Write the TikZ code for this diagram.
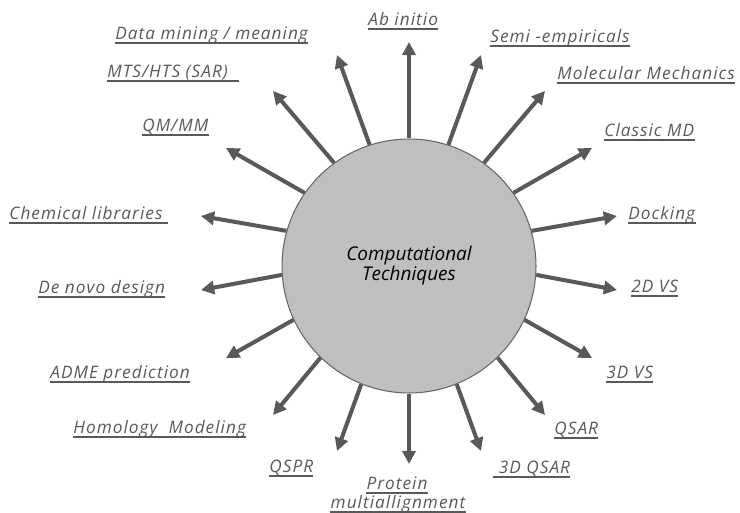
\documentclass[tikz,border=0pt]{standalone}
\usepackage{fontspec}
\setmainfont{Open Sans}
\newfontfamily\topicfont[LetterSpace=6]{Open Sans}
\usetikzlibrary{arrows.meta, positioning}
\definecolor{spokegray}{HTML}{595959}
\definecolor{hubfill}{HTML}{BFBFBF}
\definecolor{hubline}{HTML}{666666}

\begin{document}
\begin{tikzpicture}[x=0.02cm, y=-0.02cm,
    hub/.style={draw=hubline, line width=0.6pt, circle, fill=hubfill, minimum size=5.08cm, inner sep=0pt, align=center, font=\itshape\fontsize{10.8}{11.4}\selectfont},
    spoke/.style={-{Triangle[length=7.5pt, width=7.5pt]}, line width=2.3pt, draw=spokegray},
    topic/.style={anchor=south west, inner xsep=0pt, inner ysep=1.6pt, text depth=0pt, text=spokegray, font=\topicfont\itshape\fontsize{9.8}{11}\selectfont,
        append after command={(\tikzlastnode.south west) edge[draw=spokegray, line width=1.1pt] (\tikzlastnode.south east)}}
  ]
  \useasboundingbox (0,0) rectangle (740,513);

  % Centre
  \node (hub) [hub] at (409,266) {Computational\\Techniques};

  % Arrow ends
  \coordinate (tAb) at (409,42);
  \coordinate (tSemi) at (481,55);
  \coordinate (tMM) at (545,91);
  \coordinate (tMD) at (592,148);
  \coordinate (tDock) at (617,216);
  \coordinate (t2D) at (617,290);
  \coordinate (t3D) at (592,358);
  \coordinate (tQSAR) at (545,415);
  \coordinate (t3DQ) at (481,451);
  \coordinate (tProt) at (409,464);
  \coordinate (tQSPR) at (337,451);
  \coordinate (tHom) at (273,415);
  \coordinate (tADME) at (226,358);
  \coordinate (tNovo) at (201,290);
  \coordinate (tChem) at (201,216);
  \coordinate (tQMMM) at (226,148);
  \coordinate (tMTS) at (273,91);
  \coordinate (tData) at (337,55);

  % Arrows
  \draw [spoke] (hub.90) -- (tAb);
  \draw [spoke] (hub.72) -- (tSemi);
  \draw [spoke] (hub.54) -- (tMM);
  \draw [spoke] (hub.35) -- (tMD);
  \draw [spoke] (hub.16) -- (tDock);
  \draw [spoke] (hub.-4) -- (t2D);
  \draw [spoke] (hub.-25) -- (t3D);
  \draw [spoke] (hub.-46) -- (tQSAR);
  \draw [spoke] (hub.-68) -- (t3DQ);
  \draw [spoke] (hub.-90) -- (tProt);
  \draw [spoke] (hub.-112) -- (tQSPR);
  \draw [spoke] (hub.-134) -- (tHom);
  \draw [spoke] (hub.-155) -- (tADME);
  \draw [spoke] (hub.184) -- (tNovo);
  \draw [spoke] (hub.164) -- (tChem);
  \draw [spoke] (hub.145) -- (tQMMM);
  \draw [spoke] (hub.126) -- (tMTS);
  \draw [spoke] (hub.108) -- (tData);

  % Labels
  \node (abinitio) [topic] at (368,29) {Ab initio};
  \node (semi) [topic] at (490,46) {Semi -empiricals\ };
  \node (molmech) [topic] at (557,83) {Molecular Mechanics\ };
  \node (classicmd) [topic] at (604,140) {Classic MD\ };
  \node (docking) [topic] at (628,223) {Docking};
  \node (vs2d) [topic] at (631,296) {2D VS};
  \node (vs3d) [topic] at (606,382) {3D VS};
  \node (qsar) [topic] at (554,438) {QSAR};
  \node (qsar3d) [topic] at (493,477) {\ 3D QSAR};
  \node (protein) [topic, anchor=south] at (397,493) {Protein\ };
  \node (multiall) [topic, anchor=south] at (398,512) {multiallignment\ };
  \node (qspr) [topic] at (269,476) {QSPR\ };
  \node (homology) [topic] at (73,437) {Homology\ \ Modeling};
  \node (adme) [topic] at (50,382) {ADME prediction\ };
  \node (denovo) [topic] at (38,297) {De novo design\ };
  \node (chemlib) [topic] at (9,223) {Chemical libraries\ \ };
  \node (qmmm) [topic] at (142,135) {QM/MM};
  \node (mts) [topic] at (107,81) {MTS/HTS (SAR)\ \ \ };
  \node (datamining) [topic] at (115,43) {Data mining / meaning};
\end{tikzpicture}
\end{document}
